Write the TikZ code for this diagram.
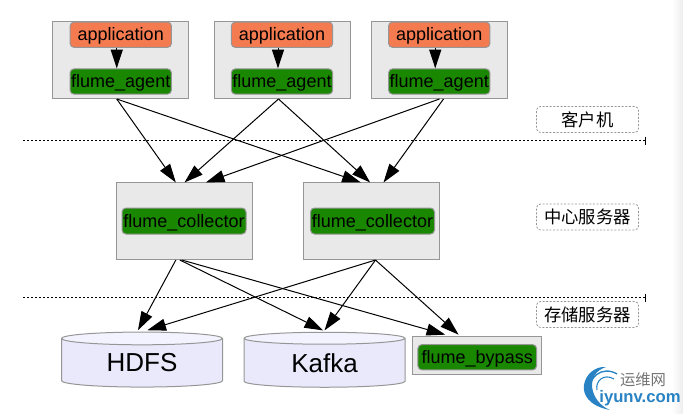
\documentclass[tikz,border=0pt]{standalone}
\usepackage{fontspec}
\setmainfont{Liberation Sans}
\newfontfamily\cjkfont{Noto Sans CJK SC}
\usetikzlibrary{arrows.meta,shapes.geometric}
\definecolor{box_gray}{RGB}{233,233,233}
\definecolor{line_gray}{RGB}{150,150,150}
\definecolor{app_orange}{RGB}{244,122,80}
\definecolor{agent_green}{RGB}{26,135,0}
\definecolor{disk_top}{RGB}{243,243,255}
\definecolor{disk_body}{RGB}{233,233,251}
\definecolor{logo_blue}{RGB}{40,130,195}

\begin{document}
\begin{tikzpicture}[x=0.75pt,y=-0.75pt,->,line width=0.75pt,>={Triangle[length=14pt,width=9pt]}]
    \tikzstyle{host}=[draw=line_gray, fill=box_gray, inner sep=0pt, minimum width=102pt, minimum height=57.75pt]
    \tikzstyle{collbox}=[host, minimum height=57.4pt]
    \tikzstyle{inner}=[draw=line_gray, rounded corners=3pt, inner sep=0pt, text=black, text height=11pt, text depth=2pt, font=\fontsize{13.5}{15}\selectfont]
    \tikzstyle{app}=[inner, fill=app_orange, minimum width=76pt, minimum height=19pt]
    \tikzstyle{agent}=[inner, fill=agent_green, minimum width=76pt, minimum height=19pt]
    \tikzstyle{disk}=[cylinder, shape border rotate=90, shape aspect=0.18, draw=line_gray, inner sep=0pt, cylinder uses custom fill, cylinder end fill=disk_top, cylinder body fill=disk_body, minimum width=120.75pt, minimum height=41.25pt, font=\fontsize{19.5}{22}\selectfont]
    \tikzstyle{tagbox}=[draw=line_gray, dash pattern=on 1.5pt off 1.2pt, line width=0.6pt, rounded corners=3pt, inner sep=0pt, minimum width=76.5pt, minimum height=19.5pt, font=\cjkfont\fontsize{13}{15}\selectfont]
    \tikzstyle{sep}=[dash pattern=on 1.8pt off 1.2pt, line width=0.6pt, black, -{Bar[width=6pt]}]

    \useasboundingbox (0,0) rectangle (683,414);
    \shade[left color=white, right color=black!7, draw=none] (672,0) rectangle (683,414);

    \node[host] (host1) at (120.75,60) {};
    \node[host] (host2) at (282.5,60)  {};
    \node[host] (host3) at (439.5,60)  {};
    \node[app]   (app1)   at (120.75,34.75) {application};
    \node[app]   (app2)   at (282,34.75)    {application};
    \node[app]   (app3)   at (439.25,34.75) {application};
    \node[agent] (agent1) at (120.75,81.5)  {flume\_agent};
    \node[agent] (agent2) at (282,81.5)     {flume\_agent};
    \node[agent] (agent3) at (439.25,81.5)  {flume\_agent};

    \node[collbox] (collbox1) at (184.5,221.25) {};
    \node[collbox] (collbox2) at (371.5,221.25) {};
    \node[agent, minimum width=93pt, minimum height=19.5pt] (coll1) at (184,221)   {flume\_collector};
    \node[agent, minimum width=93pt, minimum height=19.5pt] (coll2) at (372.5,221) {flume\_collector};

    \node[disk] (hdfs)  at (142,363)   {HDFS};
    \node[disk] (kafka) at (324.5,363) {Kafka};
    \node[host, minimum width=96.4pt, minimum height=28.5pt] (bypassbox) at (477.25,355.5) {};
    \node[agent, minimum width=89pt] (bypass) at (477.25,357.25) {flume\_bypass};

    \node[tagbox] (tag1) at (587.5,119.5) {客户机};
    \node[tagbox] (tag2) at (587.5,217)   {中心服务器};
    \node[tagbox] (tag3) at (587.5,314.5) {存储服务器};

    \coordinate (ruleA) at (23,140.5);
    \coordinate (ruleB) at (646,140.5);
    \coordinate (ruleC) at (23,297.5);
    \coordinate (ruleD) at (646,297.5);
    \draw[sep] (ruleA) -- (ruleB);
    \draw[sep] (ruleC) -- (ruleD);

    \path
     ([xshift=-3pt]app1.south) edge ([xshift=-3pt]agent1.north)
     ([xshift=-3pt]app2.south) edge ([xshift=-3pt]agent2.north)
     ([xshift=-3pt]app3.south) edge ([xshift=-3pt]agent3.north)
     ([xshift=-3pt]host1.south) edge ([xshift=-6.5pt]collbox1.north)
     ([xshift=-3pt]host1.south) edge ([xshift=-8pt]collbox2.north)
     ([xshift=-3pt]host2.south) edge ([xshift=0pt]collbox1.north)
     ([xshift=-3pt]host2.south) edge ([xshift=-1pt]collbox2.north)
     (host3.south) edge ([xshift=16pt]collbox1.north)
     ([xshift=3pt]host3.south) edge ([xshift=9pt]collbox2.north)
     ([xshift=-6.5pt]collbox1.south) edge ([xshift=-3pt,yshift=1pt]hdfs.north)
     ([xshift=-3.5pt]collbox1.south) edge ([xshift=-1pt,yshift=1pt]kafka.north)
     ([xshift=-2pt]collbox1.south) edge ([xshift=-24pt,yshift=1pt]bypassbox.north)
     ([xshift=3pt]collbox2.south) edge ([xshift=4pt,yshift=1pt]hdfs.north)
     ([xshift=3pt]collbox2.south) edge ([yshift=1pt]kafka.north)
     ([xshift=3pt]collbox2.south) edge ([xshift=-14pt,yshift=1pt]bypassbox.north)
     ;

    % watermark
    \begin{scope}[-, logo_blue]
      \fill (606,367) .. controls (584,365) and (568,402) .. (610,410) .. controls (590,402) and (584,374) .. (606,367);
      \draw[line width=1pt] (617,374) .. controls (602,365) and (586,378) .. (591,394);
      \draw[line width=0.8pt] (614,379) .. controls (604,373) and (595,381) .. (597,390);
    \end{scope}
    \node[text=black!55, font=\cjkfont\fontsize{11.5}{13}\selectfont, inner sep=0pt] (wmark) at (643,380) {运维网};
    \node[text=logo_blue, font=\bfseries\fontsize{12.5}{14}\selectfont, inner sep=0pt] (wsite) at (640,398) {iyunv.com};
\end{tikzpicture}
\end{document}
